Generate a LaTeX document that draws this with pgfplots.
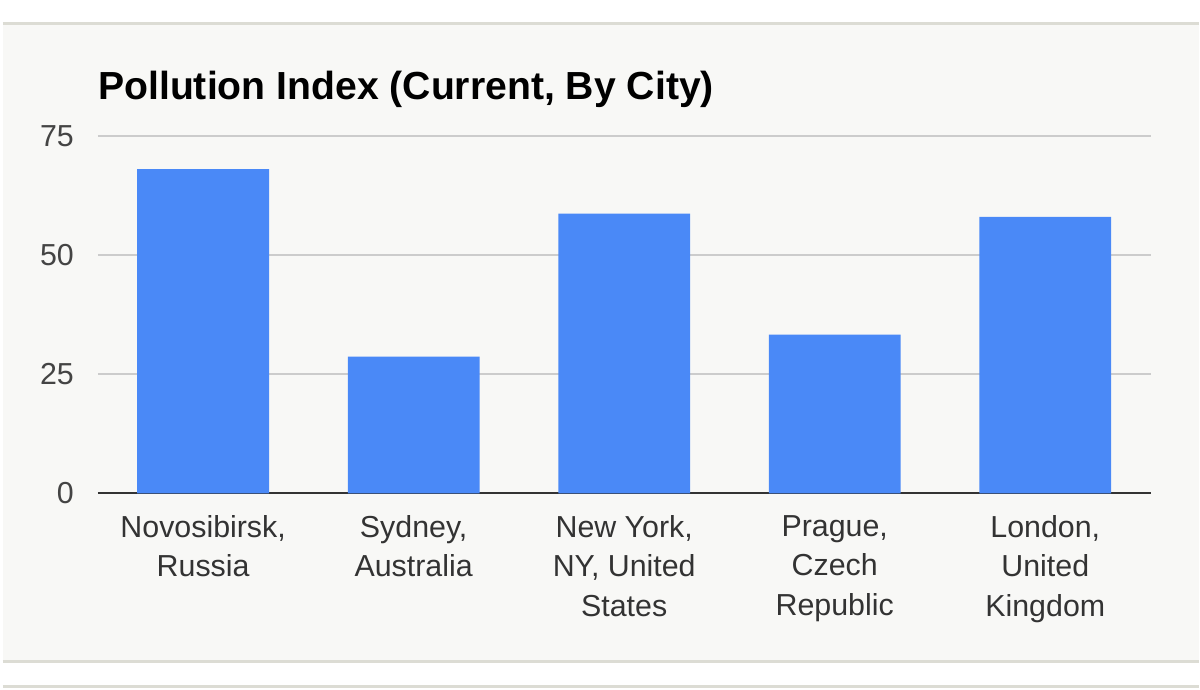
\documentclass[border=0pt]{standalone}
\usepackage{pgfplots}
\pgfplotsset{compat=1.18}
\usepackage{fontspec}
\setmainfont{Liberation Sans}
\definecolor{panel}{RGB}{248,248,246}
\definecolor{edge}{RGB}{220,220,212}
\definecolor{barblue}{RGB}{74,137,247}
\definecolor{gridgray}{RGB}{204,204,204}
\definecolor{ticktext}{RGB}{68,68,68}
\begin{document}
\begin{tikzpicture}
% background (1px = 0.5pt; axis lower-left at pixel (98,494))
\fill[white] (-49pt,-98pt) rectangle (551pt,247pt);
\fill[panel] (-47.5pt,-84pt) rectangle (551pt,235pt);
\draw[edge,line width=1.5pt] (-47.5pt,235pt) -- (551pt,235pt);
\draw[edge,line width=1.5pt] (-47.5pt,-84pt) -- (551pt,-84pt);
\draw[edge,line width=1.5pt] (-47.5pt,-96.5pt) -- (551pt,-96.5pt);
\begin{axis}[
  at={(0pt,0pt)}, anchor=south west,
  scale only axis, width=527pt, height=179pt,
  xmin=-0.5, xmax=4.5, ymin=0, ymax=75,
  enlargelimits=false,
  ybar, bar width=66pt,
  xtick=data,
  xticklabels={{Novosibirsk,\\Russia},{Sydney,\\Australia},{New York,\\NY, United\\States},{Prague,\\Czech\\Republic},{London,\\United\\Kingdom}},
  ytick={0,25,50,75},
  axis x line*=bottom, axis y line*=left,
  y axis line style={draw=none},
  x axis line style={draw=black!80, line width=1pt},
  major tick length=0pt,
  ymajorgrids, grid style={gridgray, line width=1pt},
  /pgf/number format/assume math mode=true,
  yticklabel style={font=\fontsize{15.2}{18}\selectfont, text=ticktext, xshift=-8.5pt},
  xticklabel style={font=\fontsize{15.2}{19.8}\selectfont, text=black!80, align=center, yshift=-7.5pt},
  clip=false,
]
\addplot[fill=barblue, draw=none] coordinates {(0,68) (1,28.7) (2,58.7) (3,33.3) (4,58.0)};
\end{axis}
\node[anchor=base west, inner sep=0pt, font=\fontsize{19.6}{23}\selectfont\bfseries] at (0pt,197pt) {Pollution Index (Current, By City)};
\end{tikzpicture}
\end{document}
